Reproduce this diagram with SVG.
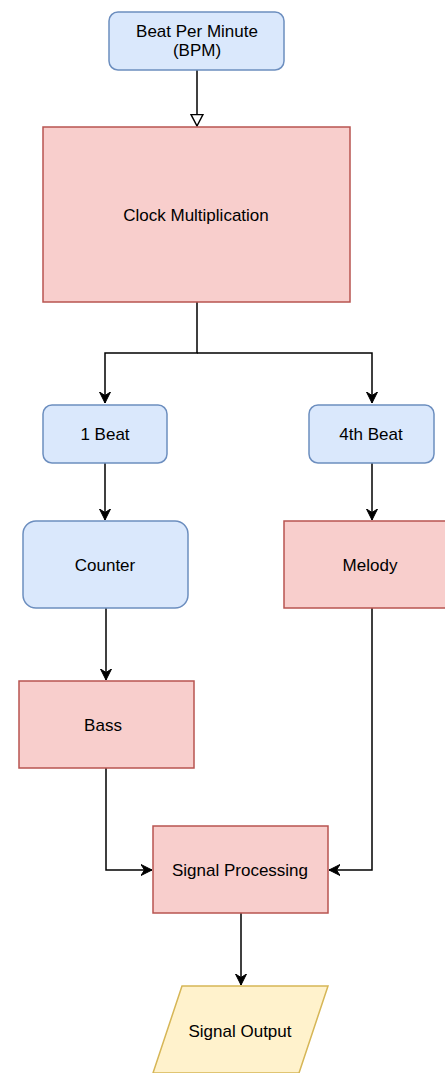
<svg xmlns="http://www.w3.org/2000/svg" width="445" height="1073" viewBox="0 0 445 1073">
<style>
.blue{fill:#dae8fc;stroke:#6c8ebf;stroke-width:1.5}
.red{fill:#f8cecc;stroke:#b85450;stroke-width:1.5}
.yellow{fill:#fff2cc;stroke:#d6b656;stroke-width:1.5}
.lbl{font-family:"Liberation Sans",Arial,Helvetica,sans-serif;font-size:17px;fill:#000;text-anchor:middle;dominant-baseline:central}
.edge{fill:none;stroke:#000;stroke-width:1.5}
</style>
<defs>
<marker id="arr" markerUnits="userSpaceOnUse" markerWidth="12" markerHeight="12" viewBox="0 0 12 12" refX="11" refY="6" orient="auto">
<path d="M0,0.5 L11,6 L0,11.5 L3.5,6 z" fill="#000" stroke="#000" stroke-width="1"/>
</marker>
<marker id="open" markerUnits="userSpaceOnUse" markerWidth="14" markerHeight="14" viewBox="0 0 14 14" refX="12.5" refY="7" orient="auto">
<path d="M1,1 L12.5,7 L1,13 z" fill="#fff" stroke="#000" stroke-width="1.5"/>
</marker>
</defs>
<g id="connectors">
<path class="edge" d="M197,70 V126" marker-end="url(#open)"/>
<path class="edge" d="M197,302 V353 H105 V403" marker-end="url(#arr)"/>
<path class="edge" d="M197,353 H372 V403" marker-end="url(#arr)"/>
<path class="edge" d="M105,463 V520" marker-end="url(#arr)"/>
<path class="edge" d="M372,463 V520" marker-end="url(#arr)"/>
<path class="edge" d="M106,608 V680" marker-end="url(#arr)"/>
<path class="edge" d="M106,768 V870 H152" marker-end="url(#arr)"/>
<path class="edge" d="M372,608 V870 H329" marker-end="url(#arr)"/>
<path class="edge" d="M241,913 V985" marker-end="url(#arr)"/>
</g>
<g id="bpm">
<rect class="blue" x="109" y="12" width="175" height="58" rx="9"/>
<text class="lbl" x="197" y="31">Beat Per Minute</text>
<text class="lbl" x="197" y="50">(BPM)</text>
</g>
<g id="clock">
<rect class="red" x="43" y="127" width="307" height="175"/>
<text class="lbl" x="196" y="215">Clock Multiplication</text>
</g>
<g id="beat1">
<rect class="blue" x="43" y="405" width="124" height="58" rx="9"/>
<text class="lbl" x="105" y="434">1 Beat</text>
</g>
<g id="beat4">
<rect class="blue" x="309" y="405" width="125" height="58" rx="9"/>
<text class="lbl" x="371" y="434">4th Beat</text>
</g>
<g id="counter">
<rect class="blue" x="23" y="521" width="165" height="87" rx="13"/>
<text class="lbl" x="105" y="565">Counter</text>
</g>
<g id="melody">
<rect class="red" x="284" y="521" width="176" height="87"/>
<text class="lbl" x="370" y="565">Melody</text>
</g>
<g id="bass">
<rect class="red" x="19" y="681" width="175" height="87"/>
<text class="lbl" x="103" y="725">Bass</text>
</g>
<g id="signal-processing">
<rect class="red" x="153" y="826" width="175" height="87"/>
<text class="lbl" x="240" y="870">Signal Processing</text>
</g>
<g id="signal-output">
<polygon class="yellow" points="182,986 328,986 299,1073 153,1073"/>
<text class="lbl" x="240" y="1031">Signal Output</text>
</g>
</svg>
